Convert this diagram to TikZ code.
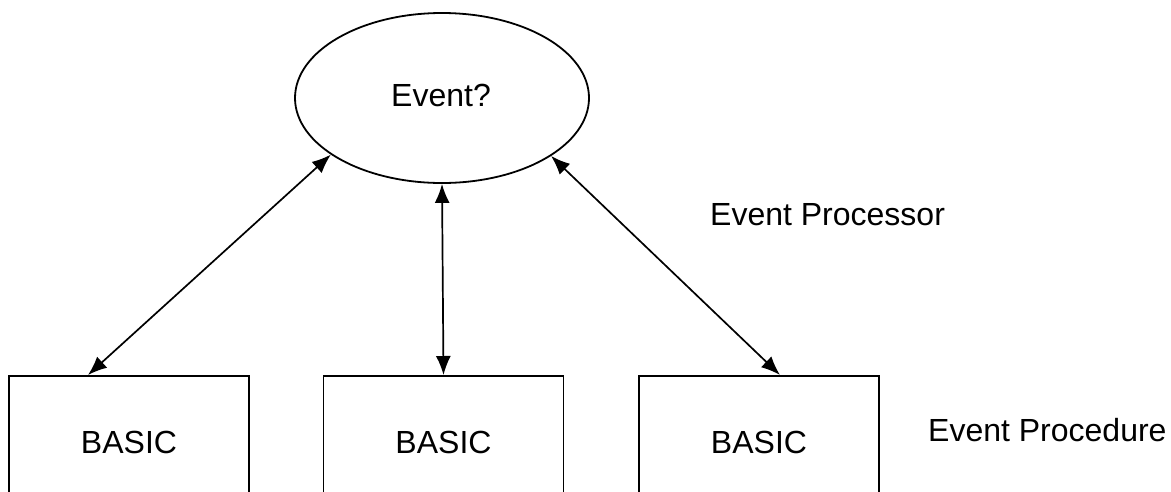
\documentclass[tikz,border=0pt]{standalone}
\usepackage{fontspec}
\setmainfont{Liberation Sans}
\usetikzlibrary{arrows.meta,shapes.geometric,positioning}
\tikzset{
  event/.style={ellipse,draw,line width=1.8pt,minimum width=294pt,minimum height=170pt,inner sep=0pt},
  procedure/.style={rectangle,draw,line width=1.8pt,minimum width=240pt,minimum height=133pt,anchor=north,inner sep=0pt},
  caption/.style={anchor=west,inner sep=0pt},
  link/.style={{Latex[length=19pt,width=15pt]}-{Latex[length=19pt,width=15pt]},line width=1.7pt}
}
\begin{document}
\begin{tikzpicture}[x=1pt,y=-1pt,every node/.style={font=\fontsize{32}{38}\selectfont}]
  \useasboundingbox (0,0) rectangle (1171,491);
  \clip (0,0) rectangle (1171,491);
  \node[event] (ev) at (442,98) {};
  \node[inner sep=0pt] (evtext) at (441,95) {Event?};
  \node[procedure] (b1) at (129,375) {BASIC};
  \node[procedure] (b2) at (443.5,375) {BASIC};
  \node[procedure] (b3) at (759,375) {BASIC};
  \node[caption] (proc) at (710,215) {Event Processor};
  \node[caption] (pcd) at (928,430) {Event Procedure};
  \draw[link] (ev.207) -- ([xshift=-41pt]b1.north);
  \draw[link] (ev.south) -- (b2.north);
  \draw[link] (ev.332) -- ([xshift=21pt]b3.north);
\end{tikzpicture}
\end{document}
